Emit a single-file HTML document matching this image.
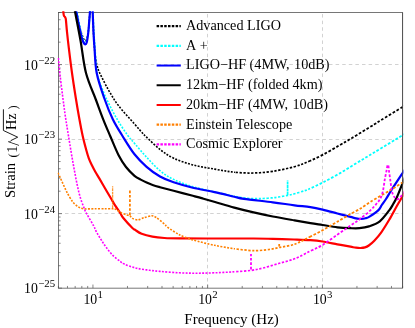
<!DOCTYPE html>
<html><head><meta charset="utf-8"><title>Strain sensitivity</title>
<style>
html,body{margin:0;padding:0;background:#fff;}
body{width:415px;height:328px;overflow:hidden;font-family:"Liberation Serif",serif;}
svg{display:block;}
text{font-family:"Liberation Serif",serif;fill:#000;}
</style></head><body>
<svg width="415" height="328" viewBox="0 0 415 328">
<rect width="415" height="328" fill="#fff"/>
<defs><clipPath id="z1"><rect x="0" y="0" width="235" height="328"/></clipPath><clipPath id="z2"><rect x="235" y="0" width="75" height="328"/></clipPath><clipPath id="z3"><rect x="310" y="0" width="110" height="328"/></clipPath><clipPath id="c"><rect x="57.60" y="11.30" width="345.80" height="277.65"/></clipPath></defs>
<path d="M207.50 288.15V12.50M322.50 288.15V12.50M58.40 213.50H402.60M58.40 139.50H402.60M58.40 64.50H402.60" stroke="#c6c6c6" stroke-width="0.8" stroke-dasharray="3.5 3.1" fill="none"/>
<path d="M58.40 288.15v-2.20M67.48 288.15v-2.20M75.17 288.15v-2.20M81.82 288.15v-2.20M87.69 288.15v-2.20M92.94 288.15v-3.60M127.48 288.15v-2.20M147.68 288.15v-2.20M162.01 288.15v-2.20M173.13 288.15v-2.20M182.22 288.15v-2.20M189.90 288.15v-2.20M196.55 288.15v-2.20M202.42 288.15v-2.20M207.67 288.15v-3.60M242.21 288.15v-2.20M262.41 288.15v-2.20M276.75 288.15v-2.20M287.87 288.15v-2.20M296.95 288.15v-2.20M304.63 288.15v-2.20M311.29 288.15v-2.20M317.15 288.15v-2.20M322.40 288.15v-3.60M356.94 288.15v-2.20M377.15 288.15v-2.20M391.48 288.15v-2.20M402.60 288.15v-2.20M58.40 288.15h3.60M58.40 265.72h2.20M58.40 252.59h2.20M58.40 243.28h2.20M58.40 236.06h2.20M58.40 230.16h2.20M58.40 225.17h2.20M58.40 220.85h2.20M58.40 217.04h2.20M58.40 213.63h3.60M58.40 191.20h2.20M58.40 178.07h2.20M58.40 168.76h2.20M58.40 161.54h2.20M58.40 155.64h2.20M58.40 150.65h2.20M58.40 146.33h2.20M58.40 142.52h2.20M58.40 139.11h3.60M58.40 116.68h2.20M58.40 103.55h2.20M58.40 94.24h2.20M58.40 87.02h2.20M58.40 81.12h2.20M58.40 76.13h2.20M58.40 71.81h2.20M58.40 68.00h2.20M58.40 64.59h3.60M58.40 42.15h2.20M58.40 29.03h2.20M58.40 19.72h2.20M58.40 12.50h2.20" stroke="#555" stroke-width="0.7" fill="none"/>
<rect x="58.4" y="12.5" width="344.20" height="275.65" fill="none" stroke="#4a4a4a" stroke-width="0.75"/>
<g clip-path="url(#c)">
<path clip-path="url(#z1)" d="M76.00 9.00C76.12 9.58 76.10 9.50 76.70 12.50C77.30 15.50 78.80 23.55 79.60 27.00C80.40 30.45 80.83 31.23 81.50 33.20C82.17 35.17 82.98 37.53 83.60 38.80C84.22 40.07 84.67 40.80 85.20 40.80C85.73 40.80 86.27 40.52 86.80 38.80C87.33 37.08 87.97 33.80 88.40 30.50C88.83 27.20 89.13 22.00 89.40 19.00C89.67 16.00 89.78 15.67 90.00 12.50C90.22 9.33 90.47 3.42 90.70 0.00C90.93 -3.42 91.17 -8.00 91.40 -8.00C91.63 -8.00 91.88 -3.42 92.10 0.00C92.32 3.42 92.47 7.10 92.70 12.50C92.93 17.90 93.20 26.50 93.50 32.40C93.80 38.30 94.15 43.55 94.50 47.90C94.85 52.25 95.13 55.40 95.60 58.50C96.07 61.60 96.62 64.08 97.30 66.50C97.98 68.92 97.83 69.08 99.70 73.00C101.57 76.92 105.35 84.53 108.50 90.00C111.65 95.47 114.27 100.13 118.60 105.80C122.93 111.47 130.32 119.23 134.50 124.00C138.68 128.77 141.68 132.20 143.70 134.40C145.72 136.60 143.88 134.68 146.60 137.20C149.32 139.72 155.50 146.00 160.00 149.50C164.50 153.00 168.13 155.63 173.60 158.20C179.07 160.77 185.98 163.08 192.80 164.90C199.62 166.72 207.58 167.88 214.50 169.10C221.42 170.32 227.78 171.55 234.30 172.20C240.82 172.85 247.18 173.15 253.60 173.00C260.02 172.85 265.98 172.35 272.80 171.30C279.62 170.25 288.55 168.33 294.50 166.70C300.45 165.07 303.82 163.47 308.50 161.50C313.18 159.53 317.47 157.58 322.60 154.90C327.73 152.22 334.40 148.22 339.30 145.40C344.20 142.58 346.22 141.47 352.00 138.00C357.78 134.53 369.23 127.53 374.00 124.60C378.77 121.67 375.83 123.33 380.60 120.40C385.37 117.47 398.53 109.47 402.60 107.00C406.67 104.53 404.60 105.83 405.00 105.60" stroke="#000" stroke-width="1.6" stroke-dasharray="1.95 1.4" fill="none"/>
<path clip-path="url(#z2)" d="M76.00 9.00C76.12 9.58 76.10 9.50 76.70 12.50C77.30 15.50 78.80 23.55 79.60 27.00C80.40 30.45 80.83 31.23 81.50 33.20C82.17 35.17 82.98 37.53 83.60 38.80C84.22 40.07 84.67 40.80 85.20 40.80C85.73 40.80 86.27 40.52 86.80 38.80C87.33 37.08 87.97 33.80 88.40 30.50C88.83 27.20 89.13 22.00 89.40 19.00C89.67 16.00 89.78 15.67 90.00 12.50C90.22 9.33 90.47 3.42 90.70 0.00C90.93 -3.42 91.17 -8.00 91.40 -8.00C91.63 -8.00 91.88 -3.42 92.10 0.00C92.32 3.42 92.47 7.10 92.70 12.50C92.93 17.90 93.20 26.50 93.50 32.40C93.80 38.30 94.15 43.55 94.50 47.90C94.85 52.25 95.13 55.40 95.60 58.50C96.07 61.60 96.62 64.08 97.30 66.50C97.98 68.92 97.83 69.08 99.70 73.00C101.57 76.92 105.35 84.53 108.50 90.00C111.65 95.47 114.27 100.13 118.60 105.80C122.93 111.47 130.32 119.23 134.50 124.00C138.68 128.77 141.68 132.20 143.70 134.40C145.72 136.60 143.88 134.68 146.60 137.20C149.32 139.72 155.50 146.00 160.00 149.50C164.50 153.00 168.13 155.63 173.60 158.20C179.07 160.77 185.98 163.08 192.80 164.90C199.62 166.72 207.58 167.88 214.50 169.10C221.42 170.32 227.78 171.55 234.30 172.20C240.82 172.85 247.18 173.15 253.60 173.00C260.02 172.85 265.98 172.35 272.80 171.30C279.62 170.25 288.55 168.33 294.50 166.70C300.45 165.07 303.82 163.47 308.50 161.50C313.18 159.53 317.47 157.58 322.60 154.90C327.73 152.22 334.40 148.22 339.30 145.40C344.20 142.58 346.22 141.47 352.00 138.00C357.78 134.53 369.23 127.53 374.00 124.60C378.77 121.67 375.83 123.33 380.60 120.40C385.37 117.47 398.53 109.47 402.60 107.00C406.67 104.53 404.60 105.83 405.00 105.60" stroke="#000" stroke-width="1.7" stroke-dasharray="2.3 1.6" fill="none"/>
<path clip-path="url(#z3)" d="M76.00 9.00C76.12 9.58 76.10 9.50 76.70 12.50C77.30 15.50 78.80 23.55 79.60 27.00C80.40 30.45 80.83 31.23 81.50 33.20C82.17 35.17 82.98 37.53 83.60 38.80C84.22 40.07 84.67 40.80 85.20 40.80C85.73 40.80 86.27 40.52 86.80 38.80C87.33 37.08 87.97 33.80 88.40 30.50C88.83 27.20 89.13 22.00 89.40 19.00C89.67 16.00 89.78 15.67 90.00 12.50C90.22 9.33 90.47 3.42 90.70 0.00C90.93 -3.42 91.17 -8.00 91.40 -8.00C91.63 -8.00 91.88 -3.42 92.10 0.00C92.32 3.42 92.47 7.10 92.70 12.50C92.93 17.90 93.20 26.50 93.50 32.40C93.80 38.30 94.15 43.55 94.50 47.90C94.85 52.25 95.13 55.40 95.60 58.50C96.07 61.60 96.62 64.08 97.30 66.50C97.98 68.92 97.83 69.08 99.70 73.00C101.57 76.92 105.35 84.53 108.50 90.00C111.65 95.47 114.27 100.13 118.60 105.80C122.93 111.47 130.32 119.23 134.50 124.00C138.68 128.77 141.68 132.20 143.70 134.40C145.72 136.60 143.88 134.68 146.60 137.20C149.32 139.72 155.50 146.00 160.00 149.50C164.50 153.00 168.13 155.63 173.60 158.20C179.07 160.77 185.98 163.08 192.80 164.90C199.62 166.72 207.58 167.88 214.50 169.10C221.42 170.32 227.78 171.55 234.30 172.20C240.82 172.85 247.18 173.15 253.60 173.00C260.02 172.85 265.98 172.35 272.80 171.30C279.62 170.25 288.55 168.33 294.50 166.70C300.45 165.07 303.82 163.47 308.50 161.50C313.18 159.53 317.47 157.58 322.60 154.90C327.73 152.22 334.40 148.22 339.30 145.40C344.20 142.58 346.22 141.47 352.00 138.00C357.78 134.53 369.23 127.53 374.00 124.60C378.77 121.67 375.83 123.33 380.60 120.40C385.37 117.47 398.53 109.47 402.60 107.00C406.67 104.53 404.60 105.83 405.00 105.60" stroke="#000" stroke-width="1.8" stroke-dasharray="2.65 1.75" fill="none"/>

<path clip-path="url(#z1)" d="M76.40 9.00C76.52 9.58 76.28 8.50 77.10 12.50C77.92 16.50 79.95 27.92 81.30 33.00C82.65 38.08 84.02 43.33 85.20 43.00C86.38 42.67 87.60 36.08 88.40 31.00C89.20 25.92 89.62 17.67 90.00 12.50C90.38 7.33 90.47 3.42 90.70 0.00C90.93 -3.42 91.17 -8.00 91.40 -8.00C91.63 -8.00 91.83 -3.42 92.10 0.00C92.37 3.42 92.70 7.17 93.00 12.50C93.30 17.83 93.57 26.10 93.90 32.00C94.23 37.90 94.47 41.07 95.00 47.90C95.53 54.73 95.67 65.60 97.10 73.00C98.53 80.40 101.37 86.63 103.60 92.30C105.83 97.97 108.02 102.13 110.50 107.00C112.98 111.87 115.62 116.75 118.50 121.50C121.38 126.25 125.05 131.77 127.80 135.50C130.55 139.23 131.87 140.28 135.00 143.90C138.13 147.52 142.43 152.73 146.60 157.20C150.77 161.67 155.50 167.00 160.00 170.70C164.50 174.40 168.13 176.73 173.60 179.40C179.07 182.07 185.98 184.62 192.80 186.70C199.62 188.78 207.58 190.30 214.50 191.90C221.42 193.50 228.75 195.22 234.30 196.30C239.85 197.38 244.02 198.00 247.80 198.40C251.58 198.80 254.43 198.68 257.00 198.70C259.57 198.72 260.75 198.63 263.20 198.50C265.65 198.37 269.13 198.15 271.70 197.90C274.27 197.65 275.93 197.42 278.60 197.00C281.27 196.58 285.05 195.93 287.70 195.40C290.35 194.87 291.75 194.57 294.50 193.80C297.25 193.03 301.87 191.55 304.20 190.80C306.53 190.05 305.43 190.67 308.50 189.30C311.57 187.93 317.47 185.22 322.60 182.60C327.73 179.98 333.62 176.87 339.30 173.60C344.98 170.33 350.92 166.50 356.70 163.00C362.48 159.50 366.35 157.23 374.00 152.60C381.65 147.97 397.43 138.33 402.60 135.20C407.77 132.07 404.60 134.03 405.00 133.80" stroke="#00ffff" stroke-width="1.6" stroke-dasharray="1.95 1.4" fill="none"/>
<path clip-path="url(#z2)" d="M76.40 9.00C76.52 9.58 76.28 8.50 77.10 12.50C77.92 16.50 79.95 27.92 81.30 33.00C82.65 38.08 84.02 43.33 85.20 43.00C86.38 42.67 87.60 36.08 88.40 31.00C89.20 25.92 89.62 17.67 90.00 12.50C90.38 7.33 90.47 3.42 90.70 0.00C90.93 -3.42 91.17 -8.00 91.40 -8.00C91.63 -8.00 91.83 -3.42 92.10 0.00C92.37 3.42 92.70 7.17 93.00 12.50C93.30 17.83 93.57 26.10 93.90 32.00C94.23 37.90 94.47 41.07 95.00 47.90C95.53 54.73 95.67 65.60 97.10 73.00C98.53 80.40 101.37 86.63 103.60 92.30C105.83 97.97 108.02 102.13 110.50 107.00C112.98 111.87 115.62 116.75 118.50 121.50C121.38 126.25 125.05 131.77 127.80 135.50C130.55 139.23 131.87 140.28 135.00 143.90C138.13 147.52 142.43 152.73 146.60 157.20C150.77 161.67 155.50 167.00 160.00 170.70C164.50 174.40 168.13 176.73 173.60 179.40C179.07 182.07 185.98 184.62 192.80 186.70C199.62 188.78 207.58 190.30 214.50 191.90C221.42 193.50 228.75 195.22 234.30 196.30C239.85 197.38 244.02 198.00 247.80 198.40C251.58 198.80 254.43 198.68 257.00 198.70C259.57 198.72 260.75 198.63 263.20 198.50C265.65 198.37 269.13 198.15 271.70 197.90C274.27 197.65 275.93 197.42 278.60 197.00C281.27 196.58 285.05 195.93 287.70 195.40C290.35 194.87 291.75 194.57 294.50 193.80C297.25 193.03 301.87 191.55 304.20 190.80C306.53 190.05 305.43 190.67 308.50 189.30C311.57 187.93 317.47 185.22 322.60 182.60C327.73 179.98 333.62 176.87 339.30 173.60C344.98 170.33 350.92 166.50 356.70 163.00C362.48 159.50 366.35 157.23 374.00 152.60C381.65 147.97 397.43 138.33 402.60 135.20C407.77 132.07 404.60 134.03 405.00 133.80" stroke="#00ffff" stroke-width="1.7" stroke-dasharray="2.3 1.6" fill="none"/>
<path clip-path="url(#z3)" d="M76.40 9.00C76.52 9.58 76.28 8.50 77.10 12.50C77.92 16.50 79.95 27.92 81.30 33.00C82.65 38.08 84.02 43.33 85.20 43.00C86.38 42.67 87.60 36.08 88.40 31.00C89.20 25.92 89.62 17.67 90.00 12.50C90.38 7.33 90.47 3.42 90.70 0.00C90.93 -3.42 91.17 -8.00 91.40 -8.00C91.63 -8.00 91.83 -3.42 92.10 0.00C92.37 3.42 92.70 7.17 93.00 12.50C93.30 17.83 93.57 26.10 93.90 32.00C94.23 37.90 94.47 41.07 95.00 47.90C95.53 54.73 95.67 65.60 97.10 73.00C98.53 80.40 101.37 86.63 103.60 92.30C105.83 97.97 108.02 102.13 110.50 107.00C112.98 111.87 115.62 116.75 118.50 121.50C121.38 126.25 125.05 131.77 127.80 135.50C130.55 139.23 131.87 140.28 135.00 143.90C138.13 147.52 142.43 152.73 146.60 157.20C150.77 161.67 155.50 167.00 160.00 170.70C164.50 174.40 168.13 176.73 173.60 179.40C179.07 182.07 185.98 184.62 192.80 186.70C199.62 188.78 207.58 190.30 214.50 191.90C221.42 193.50 228.75 195.22 234.30 196.30C239.85 197.38 244.02 198.00 247.80 198.40C251.58 198.80 254.43 198.68 257.00 198.70C259.57 198.72 260.75 198.63 263.20 198.50C265.65 198.37 269.13 198.15 271.70 197.90C274.27 197.65 275.93 197.42 278.60 197.00C281.27 196.58 285.05 195.93 287.70 195.40C290.35 194.87 291.75 194.57 294.50 193.80C297.25 193.03 301.87 191.55 304.20 190.80C306.53 190.05 305.43 190.67 308.50 189.30C311.57 187.93 317.47 185.22 322.60 182.60C327.73 179.98 333.62 176.87 339.30 173.60C344.98 170.33 350.92 166.50 356.70 163.00C362.48 159.50 366.35 157.23 374.00 152.60C381.65 147.97 397.43 138.33 402.60 135.20C407.77 132.07 404.60 134.03 405.00 133.80" stroke="#00ffff" stroke-width="1.8" stroke-dasharray="2.65 1.75" fill="none"/>

<path d="M287.6 195.0V180.6" stroke="#00ffff" stroke-width="1.7" stroke-dasharray="3 0.5" fill="none"/>
<path d="M75.70 9.00C75.82 9.58 75.80 9.50 76.40 12.50C77.00 15.50 78.37 22.67 79.30 27.00C80.23 31.33 81.28 35.90 82.00 38.50C82.72 41.10 83.07 41.63 83.60 42.60C84.13 43.57 84.68 44.32 85.20 44.30C85.72 44.28 86.18 44.48 86.70 42.50C87.22 40.52 87.87 36.12 88.30 32.40C88.73 28.68 89.03 23.52 89.30 20.20C89.57 16.88 89.68 15.87 89.90 12.50C90.12 9.13 90.37 3.42 90.60 0.00C90.83 -3.42 91.07 -8.00 91.30 -8.00C91.53 -8.00 91.77 -3.42 92.00 0.00C92.23 3.42 92.45 7.10 92.70 12.50C92.95 17.90 93.20 26.50 93.50 32.40C93.80 38.30 93.97 41.13 94.50 47.90C95.03 54.67 95.08 64.65 96.70 73.00C98.32 81.35 101.52 90.28 104.20 98.00C106.88 105.72 109.75 112.97 112.80 119.30C115.85 125.63 118.88 130.17 122.50 136.00C126.12 141.83 130.48 149.17 134.50 154.30C138.52 159.43 142.35 163.10 146.60 166.80C150.85 170.50 155.50 173.92 160.00 176.50C164.50 179.08 168.13 180.43 173.60 182.30C179.07 184.17 185.98 186.07 192.80 187.70C199.62 189.33 207.58 190.60 214.50 192.10C221.42 193.60 229.40 195.58 234.30 196.70C239.20 197.82 237.48 197.87 243.90 198.80C250.32 199.73 264.37 201.22 272.80 202.30C281.23 203.38 288.23 204.50 294.50 205.30C300.77 206.10 305.72 206.38 310.40 207.10C315.08 207.82 318.10 208.53 322.60 209.60C327.10 210.67 332.75 212.28 337.40 213.50C342.05 214.72 347.40 216.10 350.50 216.90C353.60 217.70 354.25 217.97 356.00 218.30C357.75 218.63 359.42 218.90 361.00 218.90C362.58 218.90 364.08 218.68 365.50 218.30C366.92 217.92 367.38 217.92 369.50 216.60C371.62 215.28 376.15 212.33 378.20 210.40C380.25 208.47 380.50 206.90 381.80 205.00C383.10 203.10 384.38 201.50 386.00 199.00C387.62 196.50 388.73 194.32 391.50 190.00C394.27 185.68 400.35 176.53 402.60 173.10C404.85 169.67 404.60 170.02 405.00 169.40" stroke="#0000ff" stroke-width="2.2" fill="none" stroke-linejoin="round"/>
<path d="M74.60 9.00C74.70 9.58 74.20 7.17 75.20 12.50C76.20 17.83 78.80 30.92 80.60 41.00C82.40 51.08 83.43 63.17 86.00 73.00C88.57 82.83 93.13 92.28 96.00 100.00C98.87 107.72 100.83 113.30 103.20 119.30C105.57 125.30 107.63 130.00 110.20 136.00C112.77 142.00 115.97 150.13 118.60 155.30C121.23 160.47 123.35 163.58 126.00 167.00C128.65 170.42 132.05 173.70 134.50 175.80C136.95 177.90 138.68 178.47 140.70 179.60C142.72 180.73 144.62 181.70 146.60 182.60C148.58 183.50 150.37 184.23 152.60 185.00C154.83 185.77 156.50 186.23 160.00 187.20C163.50 188.17 168.13 189.37 173.60 190.80C179.07 192.23 187.98 194.53 192.80 195.80C197.62 197.07 198.80 197.37 202.50 198.40C206.20 199.43 209.70 200.47 215.00 202.00C220.30 203.53 227.87 205.87 234.30 207.60C240.73 209.33 247.18 210.92 253.60 212.40C260.02 213.88 265.98 215.17 272.80 216.50C279.62 217.83 288.23 219.30 294.50 220.40C300.77 221.50 305.72 222.33 310.40 223.10C315.08 223.87 318.10 224.30 322.60 225.00C327.10 225.70 332.75 226.77 337.40 227.30C342.05 227.83 346.83 228.05 350.50 228.20C354.17 228.35 356.32 228.50 359.40 228.20C362.48 227.90 365.60 227.55 369.00 226.40C372.40 225.25 376.43 223.97 379.80 221.30C383.17 218.63 386.97 213.28 389.20 210.40C391.43 207.52 391.90 206.23 393.20 204.00C394.50 201.77 395.43 200.48 397.00 197.00C398.57 193.52 401.27 186.43 402.60 183.10C403.93 179.77 404.60 178.02 405.00 177.00" stroke="#000" stroke-width="2.2" fill="none" stroke-linejoin="round"/>
<path d="M63.10 9.00C63.15 9.58 63.28 11.47 63.40 12.50C63.52 13.53 63.62 14.53 63.80 15.20C63.98 15.87 64.25 16.13 64.50 16.50C64.75 16.87 65.08 16.98 65.30 17.40C65.52 17.82 65.65 18.07 65.80 19.00C65.95 19.93 66.00 20.85 66.20 23.00C66.40 25.15 66.57 27.75 67.00 31.90C67.43 36.05 67.97 41.05 68.80 47.90C69.63 54.75 70.83 64.65 72.00 73.00C73.17 81.35 74.60 90.50 75.80 98.00C77.00 105.50 78.05 111.67 79.20 118.00C80.35 124.33 81.50 130.58 82.70 136.00C83.90 141.42 85.37 146.73 86.40 150.50C87.43 154.27 87.98 156.15 88.90 158.60C89.82 161.05 90.83 163.02 91.90 165.20C92.97 167.38 94.07 169.50 95.30 171.70C96.53 173.90 97.68 175.65 99.30 178.40C100.92 181.15 103.07 184.88 105.00 188.20C106.93 191.52 109.38 195.70 110.90 198.30C112.42 200.90 112.50 201.27 114.10 203.80C115.70 206.33 118.97 211.13 120.50 213.50C122.03 215.87 121.32 215.58 123.30 218.00C125.28 220.42 130.45 226.03 132.40 228.00C134.35 229.97 133.47 228.83 135.00 229.80C136.53 230.77 138.70 232.65 141.60 233.80C144.50 234.95 148.60 236.00 152.40 236.70C156.20 237.40 159.80 237.72 164.40 238.00C169.00 238.28 171.73 238.32 180.00 238.40C188.27 238.48 201.73 238.48 214.00 238.50C226.27 238.52 243.80 238.43 253.60 238.50C263.40 238.57 266.07 238.73 272.80 238.90C279.53 239.07 287.73 239.28 294.00 239.50C300.27 239.72 305.63 239.87 310.40 240.20C315.17 240.53 318.10 240.82 322.60 241.50C327.10 242.18 332.75 243.43 337.40 244.30C342.05 245.17 347.40 246.13 350.50 246.70C353.60 247.27 354.33 247.48 356.00 247.70C357.67 247.92 359.00 248.05 360.50 248.00C362.00 247.95 363.62 247.82 365.00 247.40C366.38 246.98 367.25 246.62 368.80 245.50C370.35 244.38 372.22 242.90 374.30 240.70C376.38 238.50 378.82 235.78 381.30 232.30C383.78 228.82 386.58 224.23 389.20 219.80C391.82 215.37 394.77 209.63 397.00 205.70C399.23 201.77 401.27 198.48 402.60 196.20C403.93 193.92 404.60 192.70 405.00 192.00" stroke="#ff0000" stroke-width="2.2" fill="none" stroke-linejoin="round"/>
<path clip-path="url(#z1)" d="M58.00 172.80C58.49 173.88 60.24 177.76 61.50 180.50C62.76 183.24 65.46 189.45 67.00 192.40C68.54 195.35 70.96 199.60 72.50 201.60C74.04 203.60 76.47 205.69 78.00 206.70C79.53 207.71 81.02 208.51 83.40 208.80C85.78 209.09 91.98 208.80 95.00 208.80C98.02 208.80 102.58 208.80 105.00 208.80C107.42 208.80 110.90 208.79 112.30 208.80C113.70 208.81 113.71 208.33 115.00 208.90C116.29 209.47 119.82 212.06 121.50 212.90C123.18 213.74 125.80 214.47 127.00 214.90C128.20 215.33 129.34 215.51 130.10 216.00C130.86 216.49 131.31 217.85 132.40 218.40C133.49 218.95 136.23 220.01 137.90 219.90C139.57 219.79 142.38 218.17 144.30 217.60C146.22 217.03 149.93 215.81 151.60 215.80C153.27 215.79 154.41 216.35 156.20 217.50C157.99 218.65 162.78 222.61 164.40 224.00C166.02 225.39 165.71 225.90 167.80 227.40C169.89 228.90 175.80 232.95 179.30 234.70C182.80 236.45 187.87 238.42 192.80 239.90C197.73 241.38 208.69 244.07 214.50 245.30C220.31 246.53 228.83 247.94 234.30 248.70C239.77 249.46 248.74 250.59 253.60 250.70C258.46 250.81 265.42 249.95 269.00 249.50C272.58 249.05 275.63 248.23 279.20 247.50C282.77 246.77 290.13 245.83 294.50 244.30C298.87 242.77 306.47 238.57 310.40 236.60C314.33 234.63 318.82 232.29 322.60 230.20C326.38 228.11 333.49 223.97 337.40 221.70C341.31 219.43 347.27 215.83 350.50 214.00C353.73 212.17 357.63 210.35 360.50 208.60C363.37 206.85 366.98 203.99 371.00 201.50C375.02 199.01 384.78 193.46 389.20 190.80C393.62 188.14 400.39 183.87 402.60 182.50C404.81 181.13 404.66 181.21 405.00 181.00" stroke="#ff8000" stroke-width="1.6" stroke-dasharray="1.95 1.4" fill="none"/>
<path clip-path="url(#z2)" d="M58.00 172.80C58.49 173.88 60.24 177.76 61.50 180.50C62.76 183.24 65.46 189.45 67.00 192.40C68.54 195.35 70.96 199.60 72.50 201.60C74.04 203.60 76.47 205.69 78.00 206.70C79.53 207.71 81.02 208.51 83.40 208.80C85.78 209.09 91.98 208.80 95.00 208.80C98.02 208.80 102.58 208.80 105.00 208.80C107.42 208.80 110.90 208.79 112.30 208.80C113.70 208.81 113.71 208.33 115.00 208.90C116.29 209.47 119.82 212.06 121.50 212.90C123.18 213.74 125.80 214.47 127.00 214.90C128.20 215.33 129.34 215.51 130.10 216.00C130.86 216.49 131.31 217.85 132.40 218.40C133.49 218.95 136.23 220.01 137.90 219.90C139.57 219.79 142.38 218.17 144.30 217.60C146.22 217.03 149.93 215.81 151.60 215.80C153.27 215.79 154.41 216.35 156.20 217.50C157.99 218.65 162.78 222.61 164.40 224.00C166.02 225.39 165.71 225.90 167.80 227.40C169.89 228.90 175.80 232.95 179.30 234.70C182.80 236.45 187.87 238.42 192.80 239.90C197.73 241.38 208.69 244.07 214.50 245.30C220.31 246.53 228.83 247.94 234.30 248.70C239.77 249.46 248.74 250.59 253.60 250.70C258.46 250.81 265.42 249.95 269.00 249.50C272.58 249.05 275.63 248.23 279.20 247.50C282.77 246.77 290.13 245.83 294.50 244.30C298.87 242.77 306.47 238.57 310.40 236.60C314.33 234.63 318.82 232.29 322.60 230.20C326.38 228.11 333.49 223.97 337.40 221.70C341.31 219.43 347.27 215.83 350.50 214.00C353.73 212.17 357.63 210.35 360.50 208.60C363.37 206.85 366.98 203.99 371.00 201.50C375.02 199.01 384.78 193.46 389.20 190.80C393.62 188.14 400.39 183.87 402.60 182.50C404.81 181.13 404.66 181.21 405.00 181.00" stroke="#ff8000" stroke-width="1.7" stroke-dasharray="2.3 1.6" fill="none"/>
<path clip-path="url(#z3)" d="M58.00 172.80C58.49 173.88 60.24 177.76 61.50 180.50C62.76 183.24 65.46 189.45 67.00 192.40C68.54 195.35 70.96 199.60 72.50 201.60C74.04 203.60 76.47 205.69 78.00 206.70C79.53 207.71 81.02 208.51 83.40 208.80C85.78 209.09 91.98 208.80 95.00 208.80C98.02 208.80 102.58 208.80 105.00 208.80C107.42 208.80 110.90 208.79 112.30 208.80C113.70 208.81 113.71 208.33 115.00 208.90C116.29 209.47 119.82 212.06 121.50 212.90C123.18 213.74 125.80 214.47 127.00 214.90C128.20 215.33 129.34 215.51 130.10 216.00C130.86 216.49 131.31 217.85 132.40 218.40C133.49 218.95 136.23 220.01 137.90 219.90C139.57 219.79 142.38 218.17 144.30 217.60C146.22 217.03 149.93 215.81 151.60 215.80C153.27 215.79 154.41 216.35 156.20 217.50C157.99 218.65 162.78 222.61 164.40 224.00C166.02 225.39 165.71 225.90 167.80 227.40C169.89 228.90 175.80 232.95 179.30 234.70C182.80 236.45 187.87 238.42 192.80 239.90C197.73 241.38 208.69 244.07 214.50 245.30C220.31 246.53 228.83 247.94 234.30 248.70C239.77 249.46 248.74 250.59 253.60 250.70C258.46 250.81 265.42 249.95 269.00 249.50C272.58 249.05 275.63 248.23 279.20 247.50C282.77 246.77 290.13 245.83 294.50 244.30C298.87 242.77 306.47 238.57 310.40 236.60C314.33 234.63 318.82 232.29 322.60 230.20C326.38 228.11 333.49 223.97 337.40 221.70C341.31 219.43 347.27 215.83 350.50 214.00C353.73 212.17 357.63 210.35 360.50 208.60C363.37 206.85 366.98 203.99 371.00 201.50C375.02 199.01 384.78 193.46 389.20 190.80C393.62 188.14 400.39 183.87 402.60 182.50C404.81 181.13 404.66 181.21 405.00 181.00" stroke="#ff8000" stroke-width="1.8" stroke-dasharray="2.65 1.75" fill="none"/>
<path d="M129.9 215.2V190.6M279.2 246.6V243.4" stroke="#ff8000" stroke-width="1.8" stroke-dasharray="2.65 1.75" fill="none"/>
<path d="M112.6 208.0V186.2" stroke="#ff8000" stroke-width="1.3" stroke-dasharray="2.7 0.7" stroke-opacity="0.8" fill="none"/>
<path clip-path="url(#z1)" d="M58.40 58.00C58.63 60.50 59.12 66.83 59.80 73.00C60.48 79.17 61.58 87.83 62.50 95.00C63.42 102.17 64.30 109.17 65.30 116.00C66.30 122.83 67.15 127.83 68.50 136.00C69.85 144.17 71.67 155.60 73.40 165.00C75.13 174.40 77.07 185.08 78.90 192.40C80.73 199.72 82.80 204.80 84.40 208.90C86.00 213.00 86.98 214.23 88.50 217.00C90.02 219.77 92.18 223.03 93.50 225.50C94.82 227.97 95.10 229.38 96.40 231.80C97.70 234.22 99.68 237.43 101.30 240.00C102.92 242.57 104.18 244.63 106.10 247.20C108.02 249.77 110.40 253.00 112.80 255.40C115.20 257.80 118.57 260.15 120.50 261.60C122.43 263.05 122.07 263.08 124.40 264.10C126.73 265.12 130.80 266.73 134.50 267.70C138.20 268.67 142.35 269.28 146.60 269.90C150.85 270.52 154.55 270.92 160.00 271.40C165.45 271.88 173.18 272.50 179.30 272.80C185.42 273.10 190.83 273.20 196.70 273.20C202.57 273.20 208.23 273.03 214.50 272.80C220.77 272.57 228.22 272.20 234.30 271.80C240.38 271.40 246.18 271.03 251.00 270.40C255.82 269.77 258.60 269.15 263.20 268.00C267.80 266.85 273.38 265.03 278.60 263.50C283.82 261.97 289.20 260.88 294.50 258.80C299.80 256.72 305.72 253.32 310.40 251.00C315.08 248.68 318.10 247.62 322.60 244.90C327.10 242.18 332.75 237.92 337.40 234.70C342.05 231.48 346.73 228.22 350.50 225.60C354.27 222.98 356.68 221.53 360.00 219.00C363.32 216.47 367.73 212.85 370.40 210.40C373.07 207.95 374.48 206.03 376.00 204.30C377.52 202.57 378.50 201.63 379.50 200.00C380.50 198.37 381.35 196.42 382.00 194.50C382.65 192.58 382.93 191.02 383.40 188.50C383.87 185.98 384.27 182.43 384.80 179.40C385.33 176.37 386.18 172.50 386.60 170.30C387.02 168.10 387.08 167.10 387.30 166.20C387.52 165.30 387.70 164.90 387.90 164.90C388.10 164.90 388.33 165.30 388.50 166.20C388.67 167.10 388.62 168.10 388.90 170.30C389.18 172.50 389.73 176.10 390.20 179.40C390.67 182.70 391.20 187.47 391.70 190.10C392.20 192.73 392.67 193.95 393.20 195.20C393.73 196.45 394.13 196.93 394.90 197.60C395.67 198.27 396.68 199.57 397.80 199.20C398.92 198.83 400.40 196.93 401.60 195.40C402.80 193.87 404.43 190.90 405.00 190.00" stroke="#ff00ff" stroke-width="1.6" stroke-dasharray="1.95 1.4" fill="none"/>
<path clip-path="url(#z2)" d="M58.40 58.00C58.63 60.50 59.12 66.83 59.80 73.00C60.48 79.17 61.58 87.83 62.50 95.00C63.42 102.17 64.30 109.17 65.30 116.00C66.30 122.83 67.15 127.83 68.50 136.00C69.85 144.17 71.67 155.60 73.40 165.00C75.13 174.40 77.07 185.08 78.90 192.40C80.73 199.72 82.80 204.80 84.40 208.90C86.00 213.00 86.98 214.23 88.50 217.00C90.02 219.77 92.18 223.03 93.50 225.50C94.82 227.97 95.10 229.38 96.40 231.80C97.70 234.22 99.68 237.43 101.30 240.00C102.92 242.57 104.18 244.63 106.10 247.20C108.02 249.77 110.40 253.00 112.80 255.40C115.20 257.80 118.57 260.15 120.50 261.60C122.43 263.05 122.07 263.08 124.40 264.10C126.73 265.12 130.80 266.73 134.50 267.70C138.20 268.67 142.35 269.28 146.60 269.90C150.85 270.52 154.55 270.92 160.00 271.40C165.45 271.88 173.18 272.50 179.30 272.80C185.42 273.10 190.83 273.20 196.70 273.20C202.57 273.20 208.23 273.03 214.50 272.80C220.77 272.57 228.22 272.20 234.30 271.80C240.38 271.40 246.18 271.03 251.00 270.40C255.82 269.77 258.60 269.15 263.20 268.00C267.80 266.85 273.38 265.03 278.60 263.50C283.82 261.97 289.20 260.88 294.50 258.80C299.80 256.72 305.72 253.32 310.40 251.00C315.08 248.68 318.10 247.62 322.60 244.90C327.10 242.18 332.75 237.92 337.40 234.70C342.05 231.48 346.73 228.22 350.50 225.60C354.27 222.98 356.68 221.53 360.00 219.00C363.32 216.47 367.73 212.85 370.40 210.40C373.07 207.95 374.48 206.03 376.00 204.30C377.52 202.57 378.50 201.63 379.50 200.00C380.50 198.37 381.35 196.42 382.00 194.50C382.65 192.58 382.93 191.02 383.40 188.50C383.87 185.98 384.27 182.43 384.80 179.40C385.33 176.37 386.18 172.50 386.60 170.30C387.02 168.10 387.08 167.10 387.30 166.20C387.52 165.30 387.70 164.90 387.90 164.90C388.10 164.90 388.33 165.30 388.50 166.20C388.67 167.10 388.62 168.10 388.90 170.30C389.18 172.50 389.73 176.10 390.20 179.40C390.67 182.70 391.20 187.47 391.70 190.10C392.20 192.73 392.67 193.95 393.20 195.20C393.73 196.45 394.13 196.93 394.90 197.60C395.67 198.27 396.68 199.57 397.80 199.20C398.92 198.83 400.40 196.93 401.60 195.40C402.80 193.87 404.43 190.90 405.00 190.00" stroke="#ff00ff" stroke-width="1.7" stroke-dasharray="2.3 1.6" fill="none"/>
<path clip-path="url(#z3)" d="M58.40 58.00C58.63 60.50 59.12 66.83 59.80 73.00C60.48 79.17 61.58 87.83 62.50 95.00C63.42 102.17 64.30 109.17 65.30 116.00C66.30 122.83 67.15 127.83 68.50 136.00C69.85 144.17 71.67 155.60 73.40 165.00C75.13 174.40 77.07 185.08 78.90 192.40C80.73 199.72 82.80 204.80 84.40 208.90C86.00 213.00 86.98 214.23 88.50 217.00C90.02 219.77 92.18 223.03 93.50 225.50C94.82 227.97 95.10 229.38 96.40 231.80C97.70 234.22 99.68 237.43 101.30 240.00C102.92 242.57 104.18 244.63 106.10 247.20C108.02 249.77 110.40 253.00 112.80 255.40C115.20 257.80 118.57 260.15 120.50 261.60C122.43 263.05 122.07 263.08 124.40 264.10C126.73 265.12 130.80 266.73 134.50 267.70C138.20 268.67 142.35 269.28 146.60 269.90C150.85 270.52 154.55 270.92 160.00 271.40C165.45 271.88 173.18 272.50 179.30 272.80C185.42 273.10 190.83 273.20 196.70 273.20C202.57 273.20 208.23 273.03 214.50 272.80C220.77 272.57 228.22 272.20 234.30 271.80C240.38 271.40 246.18 271.03 251.00 270.40C255.82 269.77 258.60 269.15 263.20 268.00C267.80 266.85 273.38 265.03 278.60 263.50C283.82 261.97 289.20 260.88 294.50 258.80C299.80 256.72 305.72 253.32 310.40 251.00C315.08 248.68 318.10 247.62 322.60 244.90C327.10 242.18 332.75 237.92 337.40 234.70C342.05 231.48 346.73 228.22 350.50 225.60C354.27 222.98 356.68 221.53 360.00 219.00C363.32 216.47 367.73 212.85 370.40 210.40C373.07 207.95 374.48 206.03 376.00 204.30C377.52 202.57 378.50 201.63 379.50 200.00C380.50 198.37 381.35 196.42 382.00 194.50C382.65 192.58 382.93 191.02 383.40 188.50C383.87 185.98 384.27 182.43 384.80 179.40C385.33 176.37 386.18 172.50 386.60 170.30C387.02 168.10 387.08 167.10 387.30 166.20C387.52 165.30 387.70 164.90 387.90 164.90C388.10 164.90 388.33 165.30 388.50 166.20C388.67 167.10 388.62 168.10 388.90 170.30C389.18 172.50 389.73 176.10 390.20 179.40C390.67 182.70 391.20 187.47 391.70 190.10C392.20 192.73 392.67 193.95 393.20 195.20C393.73 196.45 394.13 196.93 394.90 197.60C395.67 198.27 396.68 199.57 397.80 199.20C398.92 198.83 400.40 196.93 401.60 195.40C402.80 193.87 404.43 190.90 405.00 190.00" stroke="#ff00ff" stroke-width="1.8" stroke-dasharray="2.65 1.75" fill="none"/>
<path d="M251.0 269.4V253.9" stroke="#ff00ff" stroke-width="1.8" stroke-dasharray="2.65 1.75" fill="none"/>
</g>
<path d="M402.6 12.5V288.15" stroke="#4a4a4a" stroke-width="0.75" fill="none"/>
<g opacity="0.999">
<path d="M156.6 26.10H180.8" stroke="#000" stroke-width="2.2" stroke-dasharray="2.5 1.3" fill="none"/><text x="186.0" y="30.00" font-size="14.2" xml:space="preserve">Advanced LIGO</text>
<path d="M156.6 45.82H180.8" stroke="#00ffff" stroke-width="2.2" stroke-dasharray="2.5 1.3" fill="none"/><text x="186.0" y="49.72" font-size="14.2" xml:space="preserve">A <tspan dx="0.7">+</tspan></text>
<path d="M156.6 65.54H180.8" stroke="#0000ff" stroke-width="2.0" fill="none"/><text x="186.0" y="69.44" font-size="14.2" xml:space="preserve">LIGO−HF (4MW, <tspan dx="0.9">10dB)</tspan></text>
<path d="M156.6 85.26H180.8" stroke="#000" stroke-width="2.0" fill="none"/><text x="186.0" y="89.16" font-size="14.2" xml:space="preserve">12km−HF (folded 4km)</text>
<path d="M156.6 104.98H180.8" stroke="#ff0000" stroke-width="2.0" fill="none"/><text x="186.0" y="108.88" font-size="14.2" xml:space="preserve">20km−HF (4MW, <tspan dx="0.9">10dB)</tspan></text>
<path d="M156.6 124.70H180.8" stroke="#ff8000" stroke-width="2.2" stroke-dasharray="2.5 1.3" fill="none"/><text x="186.0" y="128.60" font-size="14.2" xml:space="preserve">Einstein Telescope</text>
<path d="M156.6 144.42H180.8" stroke="#ff00ff" stroke-width="2.2" stroke-dasharray="2.5 1.3" fill="none"/><text x="186.0" y="148.32" font-size="14.2" xml:space="preserve">Cosmic Explorer</text>

<text transform="translate(37.80 293.25) scale(0.92 1)" text-anchor="end" font-size="15">10</text><text x="38.2" y="287.45" font-size="10.8">−25</text>
<text transform="translate(37.80 218.73) scale(0.92 1)" text-anchor="end" font-size="15">10</text><text x="38.2" y="212.93" font-size="10.8">−24</text>
<text transform="translate(37.80 144.21) scale(0.92 1)" text-anchor="end" font-size="15">10</text><text x="38.2" y="138.41" font-size="10.8">−23</text>
<text transform="translate(37.80 69.69) scale(0.92 1)" text-anchor="end" font-size="15">10</text><text x="38.2" y="63.89" font-size="10.8">−22</text>

<text transform="translate(97.24 303.70) scale(0.92 1)" text-anchor="end" font-size="15">10</text><text x="97.54" y="297.5" font-size="10.8">1</text>
<text transform="translate(211.97 303.70) scale(0.92 1)" text-anchor="end" font-size="15">10</text><text x="212.27" y="297.5" font-size="10.8">2</text>
<text transform="translate(326.70 303.70) scale(0.92 1)" text-anchor="end" font-size="15">10</text><text x="327.00" y="297.5" font-size="10.8">3</text>

<text x="184.3" y="323.6" font-size="15">Frequency (Hz)</text>
<g transform="translate(15.3 197.9) rotate(-90)" font-size="14.3">
<text x="0" y="0" font-size="14.7">Strain</text>
<text x="40.3" y="1.2" font-size="12.5">(</text>
<text x="45.1" y="1.9">1</text>
<text x="52.2" y="3.2" font-size="16.5">/</text>
<path d="M55.9 -5.8L57.4 -4.3L60.7 2.4L67.4 -11.9H88.6" stroke="#000" stroke-width="0.9" fill="none"/>
<text x="67.8" y="0.6">Hz</text>
<text x="88.5" y="1.2" font-size="12.5">)</text>
</g>
</g>
</svg>
</body></html>
